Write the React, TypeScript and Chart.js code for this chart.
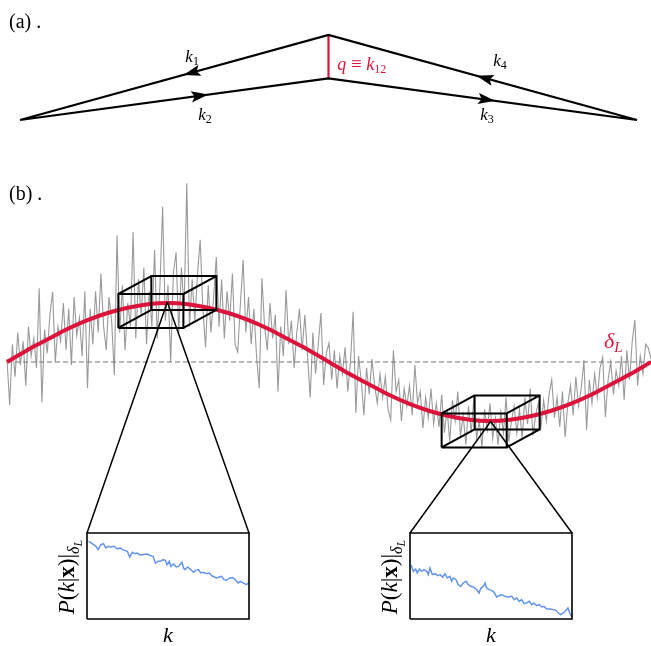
import React, { useEffect, useRef } from "react";
import { Chart, registerables } from "chart.js";

Chart.register(...registerables);

const W = 651;
const H = 646;

// ---------------- Panel (a): momentum diagram (diagram units) ----------------
const nodeNames = ["L", "T", "B", "R"];
const nodeU = [0, 0.5, 0.5, 1];
const nodeV = [0, 1, 0.49, 0];
// edges k1..k4 with arrow direction (from -> to)
const edgeFrom = ["T", "L", "B", "R"];
const edgeTo = ["L", "B", "R", "T"];
const edgeArrowAt = [0.47, 0.61, 0.54, 0.52];
const edgeSub = ["1", "2", "3", "4"];
const edgeLabelU = [0.279, 0.3, 0.757, 0.778];
const edgeLabelV = [0.682, 0.0, 0.0, 0.635];

// ---------------- Panel (b): density field ----------------
// noisy realisation (evenly spaced along the line, 241 samples)
const noisyField = [
  0.05, -0.73, 0.3, -0.25, 0.5, -0.05, 0.35, -0.4, 0.6, 0.1,
  0.4, -0.1, 1.25, -0.68, 0.55, 0.15, 0.8, 1.19, 0.0, 0.6,
  0.35, 1.0, 0.2, 0.9, -0.05, 1.1, 0.45, 0.75, 0.1, 1.2,
  -0.44, 0.9, 0.3, 1.2, 0.5, 1.5, 0.6, 0.2, 1.1, 0.7,
  -0.22, 2.15, 0.5, 1.3, 0.2, 1.0, 0.6, 2.2, 0.4, 1.4,
  0.8, 1.6, 0.3, 1.2, 0.6, 1.9, 0.4, 1.3, 2.63, 0.7,
  1.3, 0.0, 1.5, 1.86, 0.5, 1.6, 0.9, 3.03, 0.6, 1.4,
  0.7, 1.5, 2.07, 0.9, 0.25, 1.3, 0.5, 1.1, 1.78, 0.6,
  1.4, 0.4, 1.2, 0.7, 1.5, 0.3, 0.17, 1.0, 1.73, 0.5,
  1.1, 0.3, 0.9, 0.1, -0.44, 1.42, 0.6, 0.2, 1.0, 0.4,
  0.8, -0.5, 0.6, 0.1, 1.22, 0.3, 0.7, -0.1, 0.5, 0.9,
  0.2, 0.8, 0.1, -0.6, 0.5, -0.2, 0.3, 0.83, -0.39, 0.15,
  0.32, -0.3, 0.2, -0.45, 0.1, -0.2, 0.25, -0.5, 0.0, 0.85,
  -0.86, 0.1, -0.3, -0.9, -0.1, -0.55, 0.05, -0.4, -0.7, -0.2,
  -0.6, -0.25, -0.8, -0.98, 0.2, -0.5, -0.3, -1.0, -0.45, -0.75,
  -0.4, -0.9, -0.05, -0.7, -0.5, -1.12, -0.6, -0.95, -0.45, -1.05,
  -0.7, -1.1, -0.55, -1.2, -0.8, -1.35, -0.65, -1.0, -0.5, -1.25,
  -0.9, -1.4, -0.75, -1.2, -0.6, -1.3, -1.0, -1.44, -0.8, -1.15,
  -0.7, -1.3, -0.95, -1.4, -0.85, -1.2, -0.6, -1.35, -1.0, -0.75,
  -1.2, -0.8, -1.3, -0.6, -1.05, -0.45, -1.25, -0.9, -0.7, -1.1,
  -0.65, -1.0, -0.55, -0.3, -0.95, -0.6, -1.1, -0.5, -1.27, -0.7,
  -0.4, -0.9, -0.25, -0.75, -0.45, 0.03, -1.15, -0.3, -0.7, -0.2,
  -0.6, -0.1, 0.08, -0.93, -0.3, 0.0, -0.55, -0.15, -0.4, 0.1,
  -0.64, 0.2, -0.3, 0.35, 0.71, -0.4, 0.1, -0.2, 0.3, 0.24,
  0.05,
];

// linear field delta_L (33 evenly spaced samples)
const linearField = [
  0, 0.2, 0.38, 0.56, 0.71, 0.83, 0.92, 0.98, 1, 0.98, 0.92, 0.83, 0.71, 0.56,
  0.38, 0.2, 0, -0.2, -0.38, -0.56, -0.71, -0.83, -0.92, -0.98, -1, -0.98,
  -0.92, -0.83, -0.71, -0.56, -0.38, -0.2, 0,
];

// insets: P(k|x)|δL against k (normalised units)
const insetLeftK = [
  0.01, 0.024, 0.041, 0.055, 0.069, 0.086, 0.102, 0.116, 0.131, 0.147, 0.167,
  0.188, 0.204, 0.218, 0.233, 0.249, 0.263, 0.28, 0.294, 0.31, 0.327, 0.341,
  0.357, 0.371, 0.392, 0.408, 0.422, 0.439, 0.453, 0.469, 0.484, 0.494, 0.508,
  0.518, 0.535, 0.551, 0.565, 0.586, 0.596, 0.606, 0.62, 0.637, 0.657, 0.671,
  0.688, 0.702, 0.718, 0.739, 0.755, 0.769, 0.786, 0.8, 0.816, 0.831, 0.845,
  0.861, 0.882, 0.898, 0.912, 0.933, 0.947, 0.963, 0.984, 0.998,
];
const insetLeftP = [
  0.903, 0.884, 0.864, 0.845, 0.806, 0.864, 0.876, 0.826, 0.845, 0.837, 0.845,
  0.814, 0.826, 0.806, 0.798, 0.787, 0.721, 0.775, 0.76, 0.767, 0.744, 0.748,
  0.752, 0.756, 0.736, 0.729, 0.651, 0.671, 0.671, 0.69, 0.682, 0.632, 0.671,
  0.612, 0.64, 0.605, 0.612, 0.659, 0.593, 0.574, 0.605, 0.581, 0.543, 0.566,
  0.574, 0.535, 0.543, 0.527, 0.535, 0.504, 0.488, 0.477, 0.488, 0.496, 0.457,
  0.45, 0.477, 0.481, 0.465, 0.419, 0.438, 0.419, 0.399, 0.419,
];
const insetRightK = [
  0.006, 0.021, 0.035, 0.045, 0.058, 0.072, 0.086, 0.103, 0.113, 0.123, 0.138,
  0.154, 0.171, 0.185, 0.202, 0.216, 0.23, 0.247, 0.257, 0.267, 0.284, 0.298,
  0.313, 0.329, 0.346, 0.36, 0.377, 0.395, 0.412, 0.426, 0.438, 0.453, 0.463,
  0.473, 0.488, 0.504, 0.519, 0.535, 0.551, 0.566, 0.586, 0.607, 0.628, 0.644,
  0.658, 0.675, 0.689, 0.704, 0.72, 0.737, 0.751, 0.765, 0.782, 0.798, 0.813,
  0.827, 0.844, 0.864, 0.885, 0.901, 0.916, 0.93, 0.947, 0.963, 0.975, 0.984,
  0.996,
];
const insetRightP = [
  0.632, 0.554, 0.581, 0.535, 0.581, 0.554, 0.574, 0.554, 0.516, 0.593, 0.516,
  0.527, 0.504, 0.516, 0.488, 0.527, 0.477, 0.496, 0.438, 0.477, 0.457, 0.399,
  0.38, 0.419, 0.438, 0.399, 0.38, 0.368, 0.341, 0.302, 0.36, 0.38, 0.419,
  0.36, 0.341, 0.333, 0.31, 0.256, 0.271, 0.283, 0.264, 0.256, 0.264, 0.225,
  0.244, 0.205, 0.225, 0.178, 0.186, 0.205, 0.167, 0.186, 0.155, 0.167, 0.14,
  0.147, 0.116, 0.116, 0.109, 0.101, 0.07, 0.05, 0.07, 0.101, 0.128, 0.078,
  0.031,
];

// ---------------- layout helpers ----------------
// returns the scale range so that value v0 sits at pixel p0 and v1 at p1
function fit(p0: number, v0: number, p1: number, v1: number, size: number, vertical: boolean) {
  const k = (v1 - v0) / (p1 - p0);
  const at0 = v0 - p0 * k;
  const atEnd = v0 + (size - p0) * k;
  return vertical ? { min: atEnd, max: at0 } : { min: at0, max: atEnd };
}

const RED = "#dc143c";
const BLUE = "#6495ed";
const SERIF = "'Liberation Serif', 'Times New Roman', serif";

// zoom cubes (signal coordinates): centre, face size, depth offset
const cubes = [
  { t: 0.249, v: 1.017 },
  { t: 0.751, v: -1.008 },
];
const cubeW = 0.101;
const cubeH = 0.576;
const cubeDt = 0.0512;
const cubeDv = 0.305;

function cubePath(c: { t: number; v: number }) {
  const ft = c.t - cubeDt / 2;
  const fv = c.v - cubeDv / 2;
  const f = [
    [ft - cubeW / 2, fv - cubeH / 2],
    [ft + cubeW / 2, fv - cubeH / 2],
    [ft + cubeW / 2, fv + cubeH / 2],
    [ft - cubeW / 2, fv + cubeH / 2],
  ];
  const b = f.map(([x, y]) => [x + cubeDt, y + cubeDv]);
  const pts: { x: number; y: number | null }[] = [];
  const push = (p: number[]) => pts.push({ x: p[0], y: p[1] });
  const gap = () => pts.push({ x: 0, y: null });
  [...f, f[0]].forEach(push);
  gap();
  [...b, b[0]].forEach(push);
  for (let i = 0; i < 4; i++) {
    gap();
    push(f[i]);
    push(b[i]);
  }
  return pts;
}

type Run = { t: string; f: string; dy?: number; c?: string };
function drawRuns(ctx: CanvasRenderingContext2D, x: number, y: number, runs: Run[], align: "left" | "center") {
  const widths = runs.map((r) => {
    ctx.font = r.f;
    return ctx.measureText(r.t).width;
  });
  const total = widths.reduce((a, b) => a + b, 0);
  let cx = align === "center" ? x - total / 2 : x;
  ctx.textAlign = "left";
  ctx.textBaseline = "alphabetic";
  runs.forEach((r, i) => {
    ctx.font = r.f;
    ctx.fillStyle = r.c || "#000";
    ctx.fillText(r.t, cx, y + (r.dy || 0));
    cx += widths[i];
  });
}

const nodeIdx = (n: string) => nodeNames.indexOf(n);
const nodePt = (n: string) => ({ x: nodeU[nodeIdx(n)], y: nodeV[nodeIdx(n)] });

const overlay = {
  id: "overlay",
  afterDatasetsDraw(chart: any) {
    const ctx: CanvasRenderingContext2D = chart.ctx;
    const sc = chart.scales;
    const P = (xs: string, ys: string, x: number, y: number) => ({
      x: sc[xs].getPixelForValue(x),
      y: sc[ys].getPixelForValue(y),
    });
    ctx.save();
    // arrow heads on panel (a) edges
    ctx.fillStyle = "#000";
    edgeFrom.forEach((f, i) => {
      const a0 = nodePt(f);
      const b0 = nodePt(edgeTo[i]);
      const a = P("xa", "ya", a0.x, a0.y);
      const b = P("xa", "ya", b0.x, b0.y);
      const dx = b.x - a.x;
      const dy = b.y - a.y;
      const len = Math.hypot(dx, dy);
      const ux = dx / len;
      const uy = dy / len;
      const tx = a.x + dx * edgeArrowAt[i];
      const ty = a.y + dy * edgeArrowAt[i];
      const L = 17;
      const w = 5.6;
      ctx.beginPath();
      ctx.moveTo(tx, ty);
      ctx.lineTo(tx - L * ux - w * uy, ty - L * uy + w * ux);
      ctx.lineTo(tx - 0.8 * L * ux, ty - 0.8 * L * uy);
      ctx.lineTo(tx - L * ux + w * uy, ty - L * uy - w * ux);
      ctx.closePath();
      ctx.fill();
    });
    // zoom lines from cube centres to inset corners
    ctx.strokeStyle = "#000";
    ctx.lineWidth = 1.5;
    const insets = [
      ["xl", "yl"],
      ["xr", "yr"],
    ];
    cubes.forEach((c, i) => {
      const a = P("x", "y", c.t, c.v);
      const [xs, ys] = insets[i];
      [0, 1].forEach((corner) => {
        const b = P(xs, ys, corner, 1);
        ctx.beginPath();
        ctx.moveTo(a.x, a.y);
        ctx.lineTo(b.x, b.y);
        ctx.stroke();
      });
    });
    ctx.restore();
  },
  afterDraw(chart: any) {
    const ctx: CanvasRenderingContext2D = chart.ctx;
    const sc = chart.scales;
    const P = (xs: string, ys: string, x: number, y: number) => ({
      x: sc[xs].getPixelForValue(x),
      y: sc[ys].getPixelForValue(y),
    });
    ctx.save();
    // panel labels
    const pa = P("xa", "ya", -0.0178, 1.082);
    drawRuns(ctx, pa.x, pa.y, [{ t: "(a) .", f: `20px ${SERIF}` }], "left");
    const pb = P("x", "y", 0.0031, 2.746);
    drawRuns(ctx, pb.x, pb.y, [{ t: "(b) .", f: `20px ${SERIF}` }], "left");
    // k labels
    edgeSub.forEach((s, i) => {
      const p = P("xa", "ya", edgeLabelU[i], edgeLabelV[i]);
      drawRuns(
        ctx,
        p.x,
        p.y,
        [
          { t: "k", f: `italic 17px ${SERIF}` },
          { t: s, f: `12px ${SERIF}`, dy: 3 },
        ],
        "center"
      );
    });
    // q ≡ k12
    const q = P("xa", "ya", 0.514, 0.588);
    drawRuns(
      ctx,
      q.x,
      q.y,
      [
        { t: "q", f: `italic 18px ${SERIF}`, c: RED },
        { t: " \u2261 ", f: `19px ${SERIF}`, c: RED },
        { t: "k", f: `italic 18px ${SERIF}`, c: RED },
        { t: "12", f: `12px ${SERIF}`, dy: 3, c: RED },
      ],
      "left"
    );
    // δ_L label
    const d = P("x", "y", 0.927, 0.237);
    drawRuns(
      ctx,
      d.x,
      d.y,
      [
        { t: "\u03b4", f: `italic 22px ${SERIF}`, c: RED },
        { t: "L", f: `italic 15px ${SERIF}`, dy: 4, c: RED },
      ],
      "left"
    );
    // inset axis labels
    [
      ["xl", "yl"],
      ["xr", "yr"],
    ].forEach(([xs, ys]) => {
      const yl = P(xs, ys, -0.08, 0.488);
      ctx.save();
      ctx.translate(yl.x, yl.y);
      ctx.rotate(-Math.PI / 2);
      drawRuns(
        ctx,
        0,
        0,
        [
          { t: "P", f: `italic 23px ${SERIF}` },
          { t: "(", f: `23px ${SERIF}` },
          { t: "k", f: `italic 23px ${SERIF}` },
          { t: "|", f: `23px ${SERIF}` },
          { t: "x", f: `bold 23px ${SERIF}` },
          { t: ")", f: `23px ${SERIF}` },
          { t: "|", f: `23px ${SERIF}` },
          { t: "\u03b4", f: `italic 16px ${SERIF}`, dy: 5 },
          { t: "L", f: `italic 12px ${SERIF}`, dy: 8 },
        ],
        "center"
      );
      ctx.restore();
      const kl = P(xs, ys, 0.5, -0.267);
      drawRuns(ctx, kl.x, kl.y, [{ t: "k", f: `italic 22px ${SERIF}` }], "center");
    });
    ctx.restore();
  },
};

function buildConfig(): any {
  const N = noisyField.length;
  const M = linearField.length;
  const pt = (n: string) => nodePt(n);
  const box = [
    { x: 0, y: 0 },
    { x: 1, y: 0 },
    { x: 1, y: 1 },
    { x: 0, y: 1 },
    { x: 0, y: 0 },
  ];
  const line = (extra: any) => ({
    showLine: true,
    pointRadius: 0,
    fill: false,
    ...extra,
  });
  return {
    type: "scatter",
    data: {
      datasets: [
        line({
          label: "diagram",
          data: [pt("L"), pt("T"), pt("R"), pt("B"), pt("L")],
          borderColor: "#000",
          borderWidth: 2.2,
          xAxisID: "xa",
          yAxisID: "ya",
          order: 1,
        }),
        line({
          label: "q",
          data: [pt("T"), pt("B")],
          borderColor: RED,
          borderWidth: 2.2,
          xAxisID: "xa",
          yAxisID: "ya",
          order: 1,
        }),
        line({
          label: "noisy",
          data: noisyField.map((v, i) => ({ x: i / (N - 1), y: v })),
          borderColor: "#9a9a9a",
          borderWidth: 1.1,
          xAxisID: "x",
          yAxisID: "y",
          order: 6,
        }),
        line({
          label: "zero",
          data: [
            { x: 0, y: 0 },
            { x: 1, y: 0 },
          ],
          borderColor: "#777",
          borderWidth: 1.2,
          borderDash: [5, 3],
          xAxisID: "x",
          yAxisID: "y",
          order: 5,
        }),
        line({
          label: "deltaL",
          data: linearField.map((v, i) => ({ x: i / (M - 1), y: v })),
          borderColor: RED,
          borderWidth: 4,
          cubicInterpolationMode: "monotone",
          xAxisID: "x",
          yAxisID: "y",
          order: 4,
        }),
        ...cubes.map((c) =>
          line({
            label: "cube",
            data: cubePath(c),
            borderColor: "#000",
            borderWidth: 2,
            spanGaps: false,
            xAxisID: "x",
            yAxisID: "y",
            order: 2,
          })
        ),
        line({
          label: "boxL",
          data: box,
          borderColor: "#000",
          borderWidth: 1.6,
          xAxisID: "xl",
          yAxisID: "yl",
          order: 1,
        }),
        line({
          label: "insetL",
          data: insetLeftK.map((k, i) => ({ x: k, y: insetLeftP[i] })),
          borderColor: BLUE,
          borderWidth: 1.5,
          xAxisID: "xl",
          yAxisID: "yl",
          order: 1,
        }),
        line({
          label: "boxR",
          data: box,
          borderColor: "#000",
          borderWidth: 1.6,
          xAxisID: "xr",
          yAxisID: "yr",
          order: 1,
        }),
        line({
          label: "insetR",
          data: insetRightK.map((k, i) => ({ x: k, y: insetRightP[i] })),
          borderColor: BLUE,
          borderWidth: 1.5,
          xAxisID: "xr",
          yAxisID: "yr",
          order: 1,
        }),
      ],
    },
    options: {
      responsive: false,
      animation: false,
      events: [],
      layout: { padding: 0 },
      plugins: { legend: { display: false }, tooltip: { enabled: false }, title: { display: false } },
      scales: {
        xa: { type: "linear", display: false, ...fit(20, 0, 637, 1, W, false) },
        ya: { type: "linear", display: false, ...fit(120, 0, 35, 1, H, true) },
        x: { type: "linear", display: false, ...fit(7, 0, 651, 1, W, false) },
        y: { type: "linear", display: false, ...fit(362, 0, 303, 1, H, true) },
        xl: { type: "linear", display: false, ...fit(87, 0, 249, 1, W, false) },
        yl: { type: "linear", display: false, ...fit(619, 0, 533, 1, H, true) },
        xr: { type: "linear", display: false, ...fit(410, 0, 572, 1, W, false) },
        yr: { type: "linear", display: false, ...fit(619, 0, 533, 1, H, true) },
      },
    },
    plugins: [overlay],
  };
}

export default function App() {
  const ref = useRef<HTMLCanvasElement>(null);
  useEffect(() => {
    if (!ref.current) return;
    const chart = new Chart(ref.current, buildConfig());
    return () => chart.destroy();
  }, []);
  return (
    <div style={{ position: "absolute", left: 0, top: 0, width: W, height: H, background: "#fff" }}>
      <canvas ref={ref} width={W} height={H} style={{ display: "block", width: W, height: H }} />
    </div>
  );
}
